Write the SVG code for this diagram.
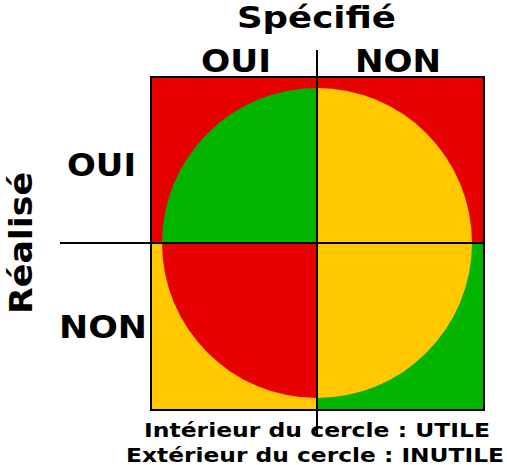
<svg xmlns="http://www.w3.org/2000/svg" width="507" height="465" viewBox="0 0 507 465">
<style>
text{font-family:"DejaVu Sans",sans-serif;font-weight:bold;fill:#000}
.big{font-size:32px}.small{font-size:19.5px}
.r{fill:#e60000}.g{fill:#00b400}.y{fill:#ffc800}
.ln{stroke:#000;stroke-width:2;fill:none}
</style>
<rect width="507" height="465" fill="#fff"/>
<g id="quadrants">
<rect class="r" x="151" y="77" width="166" height="166"/>
<rect class="r" x="317" y="77" width="167" height="166"/>
<rect class="y" x="151" y="243" width="166" height="167"/>
<rect class="g" x="317" y="243" width="167" height="167"/>
</g>
<g id="circle">
<path class="g" d="M317,243 L162,243 A155,155 0 0 1 317,88 Z"/>
<path class="y" d="M317,243 L317,88 A155,155 0 0 1 472,243 Z"/>
<path class="r" d="M317,243 L317,398 A155,155 0 0 1 162,243 Z"/>
<path class="y" d="M317,243 L472,243 A155,155 0 0 1 317,398 Z"/>
</g>
<g id="connectors">
<rect class="ln" x="151" y="77" width="333" height="333"/>
<line class="ln" x1="317" y1="50" x2="317" y2="436"/>
<line class="ln" x1="60" y1="243" x2="484" y2="243"/>
</g>
<g id="labels">
<text class="big" x="237" y="28" font-size="31" textLength="159" lengthAdjust="spacingAndGlyphs" style="font-size:31px">Spécifié</text>
<text class="big" x="201" y="72" textLength="70" lengthAdjust="spacingAndGlyphs">OUI</text>
<text class="big" x="355" y="72" textLength="86" lengthAdjust="spacingAndGlyphs">NON</text>
<text class="big" x="67" y="176" textLength="69" lengthAdjust="spacingAndGlyphs">OUI</text>
<text class="big" x="59" y="338" textLength="88" lengthAdjust="spacingAndGlyphs">NON</text>
<text class="big" transform="translate(32,314) rotate(-90)" x="0" y="0" textLength="142" lengthAdjust="spacingAndGlyphs">Réalisé</text>
<text class="small" x="144" y="437" textLength="346" lengthAdjust="spacingAndGlyphs">Intérieur du cercle : UTILE</text>
<text class="small" x="126" y="462" textLength="378" lengthAdjust="spacingAndGlyphs">Extérieur du cercle : INUTILE</text>
</g>
</svg>
